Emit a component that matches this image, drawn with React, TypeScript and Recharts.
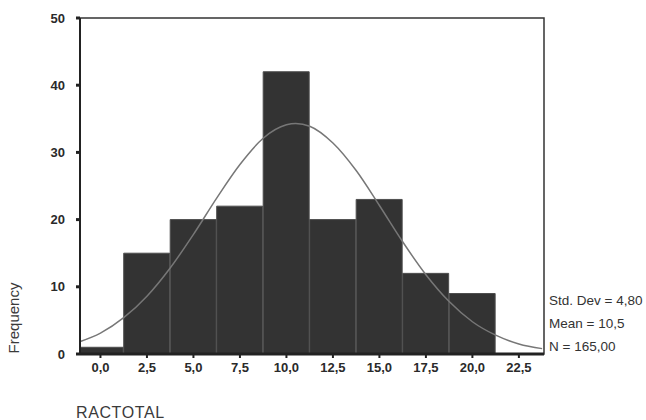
import React from 'react';
import {
  ComposedChart,
  Bar,
  Line,
  XAxis,
  YAxis,
  ReferenceArea
} from 'recharts';

// histogram bins (bin centres, width 2,5)
const binCenters = [0, 2.5, 5, 7.5, 10, 12.5, 15, 17.5, 20, 22.5];
const frequencies = [1, 15, 20, 22, 42, 20, 23, 12, 9, 0];

// fitted normal curve
const curveX = [-1.25, 0, 1.25, 2.5, 3.75, 5, 6.25, 7.5, 8.75, 10, 10.5, 11.25, 12.5, 13.75, 15, 16.25, 17.5, 18.75, 20, 21.25, 22.5, 23.75];
const curveY = [1.7, 3.1, 5.4, 8.6, 12.8, 17.8, 23.2, 28.2, 32.1, 34.1, 34.3, 33.9, 31.4, 27.3, 22.1, 16.7, 11.8, 7.8, 4.8, 2.8, 1.5, 0.8];

const xTicks = [0, 2.5, 5, 7.5, 10, 12.5, 15, 17.5, 20, 22.5];
const yTicks = [0, 10, 20, 30, 40, 50];

const stats = ['Std. Dev = 4,80', 'Mean = 10,5', 'N = 165,00'];

const barData = binCenters.map((x, i) => ({ x, count: frequencies[i] }));
const curveData = curveX.map((x, i) => ({ x, f: curveY[i] }));

const X_DOMAIN: [number, number] = [-1.1, 23.85];
const FONT = '"Liberation Sans", Arial, sans-serif';
const fmt = (v: number) => v.toFixed(1).replace('.', ',');

export default function App() {
  return (
    <div style={{ position: 'absolute', left: 0, top: 0, width: 646, height: 420, background: '#fff', fontFamily: FONT }}>
      <ComposedChart
        width={646}
        height={420}
        data={barData}
        barCategoryGap={0}
        barGap={0}
        margin={{ top: 18, right: 102, left: 0, bottom: 36 }}
      >
        <XAxis
          xAxisId="bins"
          dataKey="x"
          type="number"
          domain={X_DOMAIN}
          allowDataOverflow
          ticks={xTicks}
          tickFormatter={fmt}
          height={30}
          tickSize={4}
          tickMargin={5}
          axisLine={{ stroke: '#222', strokeWidth: 3 }}
          tickLine={{ stroke: '#222', strokeWidth: 2 }}
          tick={{ fill: '#2a2a2a', fontSize: 13, fontWeight: 'bold', fontFamily: FONT }}
        />
        <XAxis
          xAxisId="curve"
          dataKey="x"
          type="number"
          domain={X_DOMAIN}
          allowDataOverflow
          hide
        />
        <YAxis
          type="number"
          domain={[0, 50]}
          ticks={yTicks}
          width={80}
          tickSize={4}
          tickMargin={11}
          axisLine={{ stroke: '#222', strokeWidth: 2 }}
          tickLine={{ stroke: '#222', strokeWidth: 3 }}
          tick={{ fill: '#2a2a2a', fontSize: 13, fontWeight: 'bold', fontFamily: FONT }}
        />
        <ReferenceArea
          xAxisId="bins"
          x1={X_DOMAIN[0]}
          x2={X_DOMAIN[1]}
          y1={0}
          y2={50}
          fill="none"
          stroke="#333"
          strokeWidth={1.5}
        />
        <Bar
          xAxisId="bins"
          dataKey="count"
          fill="#333"
          stroke="#4e4e4e"
          strokeWidth={1}
          isAnimationActive={false}
        />
        <Line
          xAxisId="curve"
          data={curveData}
          dataKey="f"
          type="monotone"
          stroke="#777"
          strokeWidth={1.5}
          dot={false}
          activeDot={false}
          isAnimationActive={false}
        />
      </ComposedChart>

      <div
        style={{
          position: 'absolute',
          left: 13,
          top: 318,
          transform: 'translate(-50%, -50%) rotate(-90deg)',
          fontSize: 15,
          color: '#3a3a3a',
          whiteSpace: 'nowrap'
        }}
      >
        Frequency
      </div>

      {stats.map((s, i) => (
        <div
          key={s}
          style={{
            position: 'absolute',
            left: 549,
            top: 300 + i * 23,
            transform: 'translateY(-50%)',
            fontSize: 13.5,
            color: '#333',
            whiteSpace: 'nowrap'
          }}
        >
          {s}
        </div>
      ))}

      <div
        style={{
          position: 'absolute',
          left: 76,
          top: 413,
          transform: 'translateY(-50%)',
          fontSize: 16,
          letterSpacing: 0.6,
          color: '#3a3a3a',
          whiteSpace: 'nowrap'
        }}
      >
        RACTOTAL
      </div>
    </div>
  );
}
